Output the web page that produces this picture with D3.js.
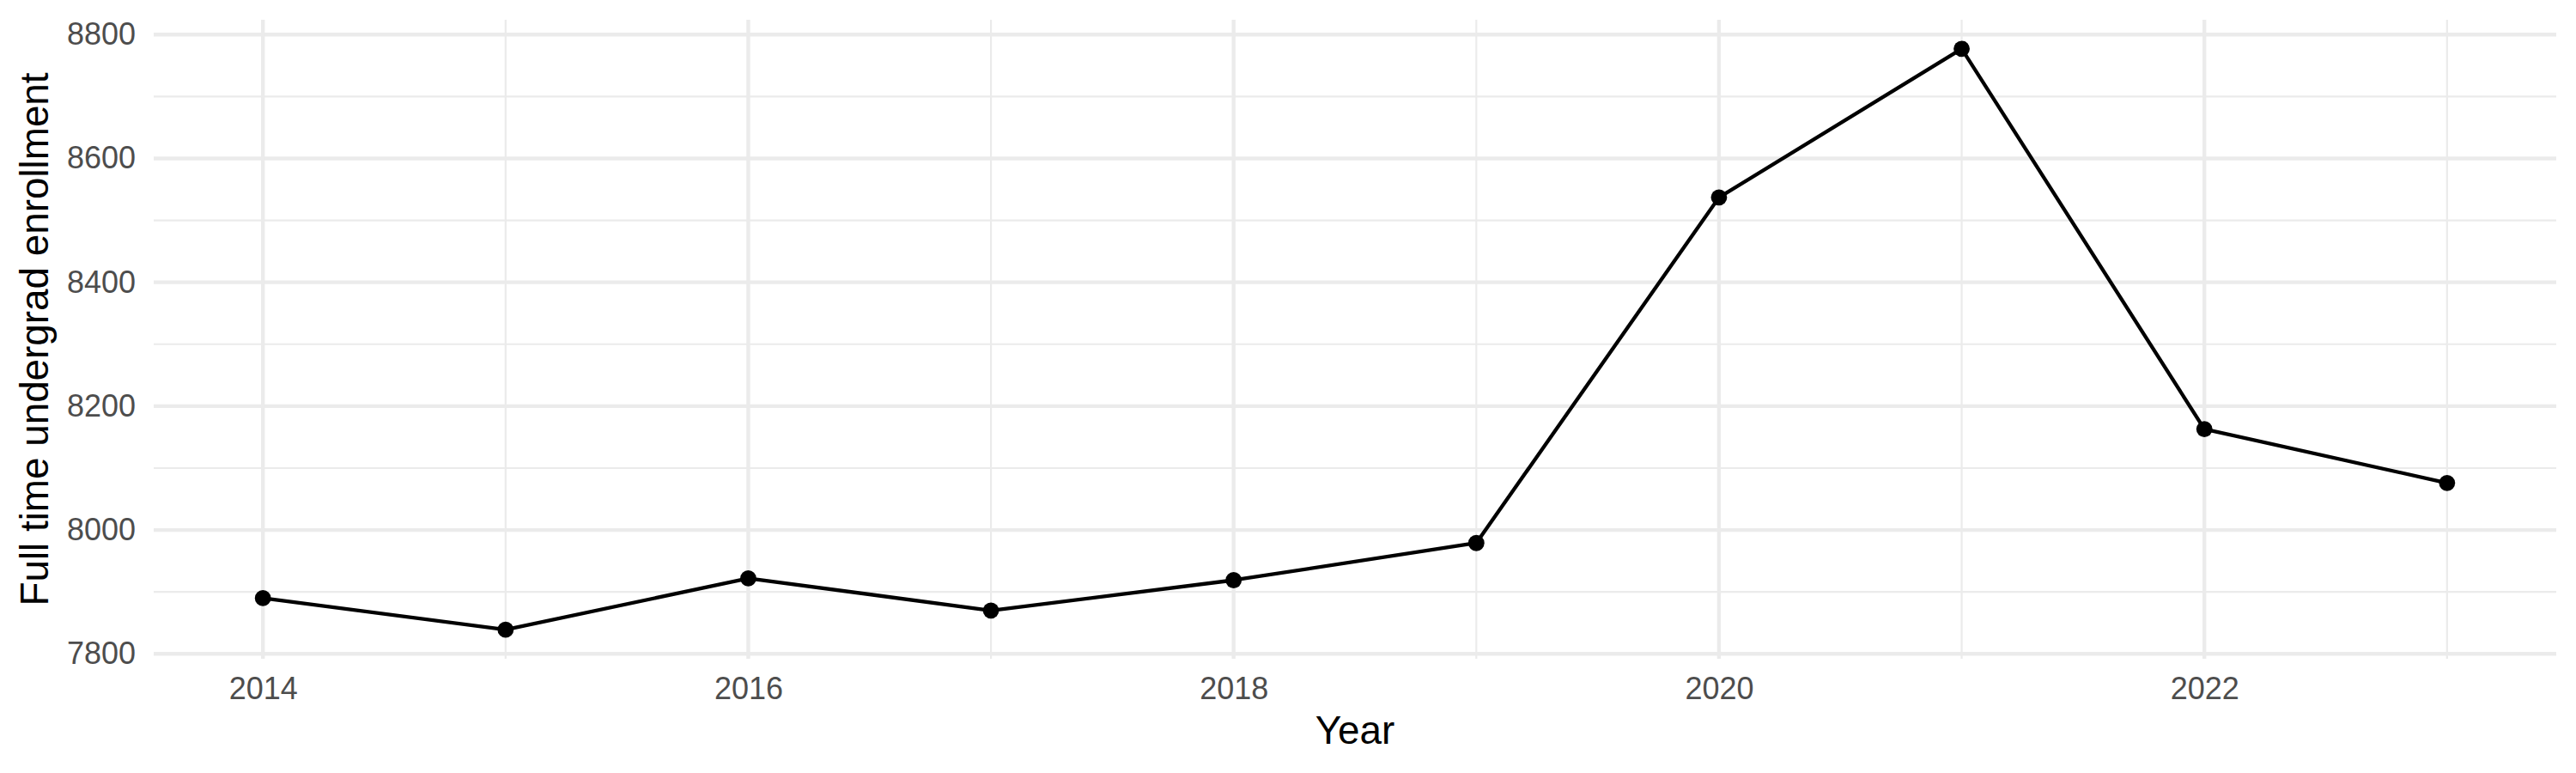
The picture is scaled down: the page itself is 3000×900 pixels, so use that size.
<!DOCTYPE html>
<html>
<head>
<meta charset="utf-8">
<script src="https://cdn.jsdelivr.net/npm/d3@7"></script>
<style>
  html, body { margin: 0; padding: 0; background: #ffffff; }
  svg { display: block; }
  text { font-family: "Liberation Sans", Arial, Helvetica, sans-serif; }
</style>
</head>
<body>
<svg id="chart"></svg>
<script>
// data
const years = [2014, 2015, 2016, 2017, 2018, 2019, 2020, 2021, 2022, 2023];
const enrollment = [7890, 7839, 7922, 7870, 7919, 7979, 8537, 8777, 8163, 8076];

// ticks / grid
const xMajorTicks = [2014, 2016, 2018, 2020, 2022];
const xMinorTicks = [2015, 2017, 2019, 2021, 2023];
const yMajorTicks = [7800, 8000, 8200, 8400, 8600, 8800];
const yMinorTicks = [7900, 8100, 8300, 8500, 8700];

const xTitle = "Year";
const yTitle = "Full time undergrad enrollment";

const width = 3000;
const height = 900;
const panel = { left: 179, right: 2977, top: 23, bottom: 767 };

const svg = d3.select("#chart").attr("width", width).attr("height", height);
svg.append("rect").attr("width", width).attr("height", height).attr("fill", "#ffffff");

// ggplot-style 5% expansion
const xExt = d3.extent(years), yExt = d3.extent(enrollment);
const xPad = (xExt[1] - xExt[0]) * 0.05, yPad = (yExt[1] - yExt[0]) * 0.05;

const x = d3.scaleLinear().domain([xExt[0] - xPad, xExt[1] + xPad]).range([panel.left, panel.right]);
const y = d3.scaleLinear().domain([yExt[0] - yPad, yExt[1] + yPad]).range([panel.bottom, panel.top]);

const grid = svg.append("g").attr("class", "grid");
const gridColor = "#ebebeb";

// minor grid first
grid.selectAll(".ymin").data(yMinorTicks).enter().append("line")
    .attr("x1", panel.left).attr("x2", panel.right)
    .attr("y1", d => y(d)).attr("y2", d => y(d))
    .attr("stroke", gridColor).attr("stroke-width", 2.2);
grid.selectAll(".xmin").data(xMinorTicks).enter().append("line")
    .attr("y1", panel.top).attr("y2", panel.bottom)
    .attr("x1", d => x(d)).attr("x2", d => x(d))
    .attr("stroke", gridColor).attr("stroke-width", 2.2);
// major grid
grid.selectAll(".ymaj").data(yMajorTicks).enter().append("line")
    .attr("x1", panel.left).attr("x2", panel.right)
    .attr("y1", d => y(d)).attr("y2", d => y(d))
    .attr("stroke", gridColor).attr("stroke-width", 4.4);
grid.selectAll(".xmaj").data(xMajorTicks).enter().append("line")
    .attr("y1", panel.top).attr("y2", panel.bottom)
    .attr("x1", d => x(d)).attr("x2", d => x(d))
    .attr("stroke", gridColor).attr("stroke-width", 4.4);

// axes (labels only, no ticks/domain)
const yAxis = svg.append("g")
    .attr("transform", `translate(${panel.left},0)`)
    .call(d3.axisLeft(y).tickValues(yMajorTicks).tickFormat(d3.format("d")).tickSize(0).tickPadding(21));
const xAxis = svg.append("g")
    .attr("transform", `translate(0,${panel.bottom})`)
    .call(d3.axisBottom(x).tickValues(xMajorTicks).tickFormat(d3.format("d")).tickSize(0).tickPadding(21));
[xAxis, yAxis].forEach(a => {
    a.select(".domain").remove();
    a.selectAll("text")
        .style("font-family", '"Liberation Sans", Arial, Helvetica, sans-serif')
        .style("font-size", "36px")
        .attr("fill", "#4d4d4d");
});

// line + points
const data = years.map((yr, i) => ({ year: yr, value: enrollment[i] }));
const line = d3.line().x(d => x(d.year)).y(d => y(d.value));

svg.append("path").datum(data)
    .attr("d", line)
    .attr("fill", "none")
    .attr("stroke", "#000000")
    .attr("stroke-width", 4.3)
    .attr("stroke-linejoin", "round");

svg.selectAll(".pt").data(data).enter().append("circle")
    .attr("class", "pt")
    .attr("cx", d => x(d.year))
    .attr("cy", d => y(d.value))
    .attr("r", 9.4)
    .attr("fill", "#000000");

// axis titles
svg.append("text")
    .attr("x", (panel.left + panel.right) / 2)
    .attr("y", 866)
    .attr("text-anchor", "middle")
    .style("font-size", "45.8px")
    .attr("fill", "#000000")
    .text(xTitle);

svg.append("text")
    .attr("transform", `translate(56,${(panel.top + panel.bottom) / 2}) rotate(-90)`)
    .attr("text-anchor", "middle")
    .style("font-size", "45.8px")
    .attr("fill", "#000000")
    .text(yTitle);
</script>
</body>
</html>
